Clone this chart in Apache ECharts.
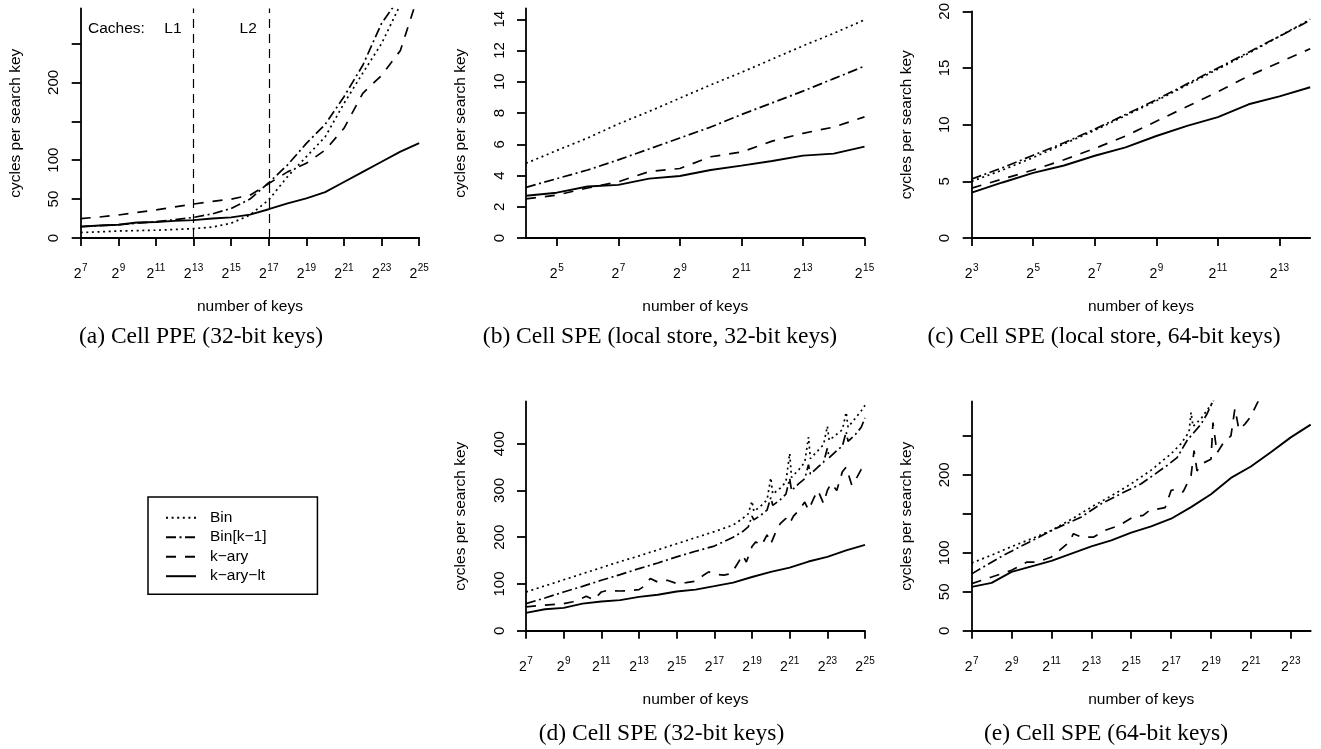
<!DOCTYPE html>
<html><head><meta charset="utf-8">
<script src="https://cdn.jsdelivr.net/npm/echarts@6/dist/echarts.min.js"></script>
<style>html,body{margin:0;padding:0;background:#fff}#c{width:1321px;height:749px}</style>
</head><body><div id="c"></div>
<script>
// ---------- data (x = log2(number of keys)) ----------
const seriesNames = ['Bin', 'Bin[k\u22121]', 'k\u2212ary', 'k\u2212ary\u2212lt'];
const captions = ['(a) Cell PPE (32-bit keys)', '(b) Cell SPE (local store, 32-bit keys)',
  '(c) Cell SPE (local store, 64-bit keys)', '(d) Cell SPE (32-bit keys)', '(e) Cell SPE (64-bit keys)'];
const cacheLevels = [13, 17];
const cacheNames = ['L1', 'L2'];

// (a) Cell PPE
const aX = [7,8,9,10,11,12,13,14,15,16,17,18,19,20,21,22,23,24,25];
const aBin    = [7, 8, 9, 9.5, 10, 11, 12, 14, 19, 29.5, 49, 79, 104.5, 130, 173, 212, 250, 300, 310];
const aBinK   = [14.6, 16, 17, 19, 21, 23.5, 26.5, 31, 38, 50, 71, 94, 121.6, 146, 181.6, 222, 276, 310, 340];
const aKary   = [25, 27, 29.5, 33, 36, 40, 43.7, 47, 50, 55, 70, 85, 96, 113, 141, 186, 209, 241, 316];
const aKaryLt = [14.6, 16, 17, 20, 20.5, 22, 23, 25, 26.5, 30, 37, 44.5, 51, 59, 72, 85, 98, 111, 122];

// (b) local store, 32-bit
const bX = [4,5,6,7,8,9,10,11,12,13,14,15];
const bBin    = [4.78, 5.6, 6.4, 7.3, 8.1, 8.95, 9.8, 10.6, 11.45, 12.3, 13.1, 13.96];
const bBinK   = [3.24, 3.8, 4.35, 5.0, 5.7, 6.4, 7.1, 7.9, 8.65, 9.4, 10.2, 11.0];
const bKary   = [2.5, 2.75, 3.2, 3.6, 4.25, 4.45, 5.2, 5.5, 6.2, 6.7, 7.1, 7.75];
const bKaryLt = [2.7, 2.9, 3.3, 3.4, 3.8, 3.97, 4.35, 4.63, 4.93, 5.27, 5.4, 5.85];

// (c) local store, 64-bit
const cX = [3,4,5,6,7,8,9,10,11,12,13,14];
const cBin    = [5.0, 6.0, 7.1, 8.3, 9.5, 10.8, 12.1, 13.5, 14.9, 16.3, 17.8, 19.3];
const cBinK   = [5.2, 6.2, 7.3, 8.4, 9.6, 10.9, 12.2, 13.6, 15.0, 16.4, 17.8, 19.2];
const cKary   = [4.4, 5.2, 6.0, 6.9, 7.9, 9.0, 10.3, 11.6, 12.9, 14.3, 15.5, 16.7];
const cKaryLt = [4.0, 4.9, 5.74, 6.4, 7.26, 8.0, 9.0, 9.9, 10.67, 11.8, 12.5, 13.3];

// (d) SPE 32-bit
const dBinX = [7,8,9,10,11,12,13,14,15,16,17,18,18.5,18.8,19,19.1,19.5,19.8,20,20.1,20.5,20.8,21,21.1,21.5,21.8,22,22.1,22.5,22.8,23,23.1,23.5,23.8,24,24.1,24.5,24.8,25];
const dBin    = [83,96,109,122,135,148,160,173,186,199,212,226,240,250,277,255,268,280,327,292,305,318,379,328,345,360,414,368,385,398,437,407,420,430,467,435,455,470,482];
const dBinK   = [58,70,83,95,108,120,133,145,158,170,181,200,212,222,245,237,248,258,285,268,280,292,325,300,315,325,355,335,350,360,390,370,385,395,425,405,420,435,455];
const dKaryX  = [7,8,9,9.5,10,10.2,10.6,11,11.3,12,12.5,13,13.3,13.6,14,14.5,15,15.5,16,16.4,16.7,17,17.5,17.9,18.3,18.5,18.7,19,19.2,19.5,19.8,20,20.3,20.5,20.8,21,21.2,21.5,21.8,22,22.3,22.5,22.8,23,23.2,23.5,23.8,24,24.3,24.6,24.8,25];
const dKary   = [51,55,58,62,70,74,66,83,86,85,86,88,96,112,104,108,101,103,106,118,126,121,119,122,148,162,147,180,190,182,205,186,215,229,240,229,245,258,275,258,285,300,272,300,315,300,340,350,311,330,345,350];
const dLtX    = [7,8,9,10,11,12,13,14,15,16,17,18,19,20,21,22,23,24,25];
const dKaryLt = [38.4,46,49,58,62.6,65.5,72.6,77,84,88,95.4,103,115,126,135,148,158,172,183.6];

// (e) SPE 64-bit
const eBinX = [7,8,9,10,11,12,13,14,15,16,17,17.5,17.9,18,18.1,18.5,19,19.3];
const eBin    = [87,97,108,118,128.8,143,158.6,173,188.5,206,227,240,255,280,262,272,290,300];
const eBinKX = [7,8.6,9.9,11.2,12.5,13.5,14.5,15.5,16.8,17.3,17.8,18.5,18.8,19.2];
const eBinK   = [73,97,114,131,146,163,176,188.5,212,222,244,265,278,300];
const eKaryX = [7,8,9,9.75,10.3,11,11.4,11.9,12.1,12.5,13.1,13.7,14.4,15.1,15.6,15.9,16.7,17,17.3,17.6,18,18.15,18.3,18.6,19,19.1,19.3,19.6,20,20.2,20.4,20.7,21,21.3,21.6];
const eKary   = [60.5,69,77.6,88,88,94.7,103,114,124.5,120,120,129,135,146,148,154,158,180,182,178,199,231,205,215,220,267,228,240,250,285,258,265,275,291,305];
const eLtX    = [7,8,9,10,11,12,13,14,15,16,17,18,19,20,21,22,23,24];
const eKaryLt = [56.3,61.4,75.5,82.7,89.6,99,108.3,116,125.8,134,143.7,158.6,175,196,210.7,229,248,264.4];

// ---------- chart ----------
const SANS = 'Liberation Sans, Arial, Helvetica, sans-serif';
const lineStyles = [
  {type: [2, 3.6], width: 1.7},
  {type: [10, 3.5, 2, 3.5], width: 1.7},
  {type: [10, 9], width: 1.7},
  {type: 'solid', width: 1.9}
];
const grids = [
  {left: 80.7, top: 8.5, width: 338.5, height: 229.5},
  {left: 526, top: 8.5, width: 338.5, height: 229.5},
  {left: 971.7, top: 8.5, width: 338.5, height: 229.5},
  {left: 526, top: 401.5, width: 339, height: 229.3},
  {left: 971.7, top: 401.5, width: 339, height: 229.3}
];
const xCfg = [
  {min: 7, max: 25, ticks: [7,9,11,13,15,17,19,21,23,25]},
  {min: 4, max: 15, ticks: [5,7,9,11,13,15]},
  {min: 3, max: 14, ticks: [3,5,7,9,11,13]},
  {min: 7, max: 25, ticks: [7,9,11,13,15,17,19,21,23,25]},
  {min: 7, max: 24, ticks: [7,9,11,13,15,17,19,21,23]}
];
const yCfg = [
  {max: 295, ticks: [0,50,100,150,200,250], labels: [0,50,100,200]},
  {max: 14.69, ticks: [0,2,4,6,8,10,12,14], labels: [0,2,4,6,8,10,12,14]},
  {max: 20, ticks: [0,5,10,15,20], labels: [0,5,10,15,20]},
  {max: 490, ticks: [0,100,200,300,400], labels: [0,100,200,300,400]},
  {max: 294, ticks: [0,50,100,150,200,250], labels: [0,50,100,200]}
];
const axLine = {show: true, onZero: false, lineStyle: {color: '#000', width: 1.8}};
const xAxes = xCfg.map((c, i) => ({
  type: 'value', gridIndex: i, min: c.min, max: c.max,
  axisLine: axLine,
  axisTick: {show: true, length: 8, customValues: c.ticks, lineStyle: {color: '#000', width: 1.8}},
  axisLabel: {customValues: c.ticks, margin: 25, color: '#000',
    formatter: v => '{b|2}{s|' + v + '}',
    rich: {b: {fontSize: 14, fontFamily: SANS, color: '#000', verticalAlign: 'bottom'},
           s: {fontSize: 10, fontFamily: SANS, color: '#000', verticalAlign: 'bottom', padding: [0, 0, 8, 0.5]}}},
  splitLine: {show: false},
  name: 'number of keys', nameLocation: 'middle', nameGap: 61,
  nameTextStyle: {fontSize: 15.5, fontFamily: SANS, color: '#000'}
}));
const yAxes = yCfg.map((c, i) => ({
  type: 'value', gridIndex: i, min: 0, max: c.max,
  axisLine: axLine,
  axisTick: {show: true, length: 9, customValues: c.ticks, lineStyle: {color: '#000', width: 1.8}},
  axisLabel: {customValues: c.labels, rotate: 90, margin: 19, fontSize: 15, fontFamily: SANS, color: '#000'},
  splitLine: {show: false},
  name: 'cycles per search key', nameLocation: 'middle', nameGap: 57,
  nameTextStyle: {fontSize: 15.5, fontFamily: SANS, color: '#000'}
}));

const panels = [
  [[aX, aBin], [aX, aBinK], [aX, aKary], [aX, aKaryLt]],
  [[bX, bBin], [bX, bBinK], [bX, bKary], [bX, bKaryLt]],
  [[cX, cBin], [cX, cBinK], [cX, cKary], [cX, cKaryLt]],
  [[dBinX, dBin], [dBinX, dBinK], [dKaryX, dKary], [dLtX, dKaryLt]],
  [[eBinX, eBin], [eBinKX, eBinK], [eKaryX, eKary], [eLtX, eKaryLt]]
];
const series = [];
panels.forEach((p, gi) => {
  p.forEach(([xs, ys], si) => {
    const s = {
      type: 'line', name: seriesNames[si], xAxisIndex: gi, yAxisIndex: gi,
      data: xs.map((x, k) => [x, ys[k]]), symbol: 'none', showSymbol: false,
      clip: true, animation: false, silent: true,
      lineStyle: Object.assign({color: '#000'}, lineStyles[si]),
      itemStyle: {color: '#000'}
    };
    if (gi === 0 && si === 3) {
      s.markLine = {silent: true, symbol: ['none', 'none'], animation: false,
        label: {show: false},
        lineStyle: {color: '#000', type: [9, 6], width: 1.2},
        data: cacheLevels.map(v => ({xAxis: v}))};
    }
    series.push(s);
  });
});

const capPos = [[201, 325], [660, 325], [1104, 325], [661.5, 722], [1106, 722]];

const chart = echarts.init(document.getElementById('c'), null, {renderer: 'canvas'});
chart.setOption({
  backgroundColor: '#fff',
  animation: false,
  grid: grids,
  xAxis: xAxes,
  yAxis: yAxes,
  legend: {
    data: seriesNames, orient: 'vertical', left: 148, top: 497,
    itemWidth: 30, itemHeight: 14, itemGap: 3.5,
    padding: [12.7, 51, 10, 17],
    borderColor: '#000', borderWidth: 1.5, backgroundColor: '#fff',
    selectedMode: false,
    itemStyle: {opacity: 0, borderWidth: 0},
    textStyle: {fontSize: 15.5, fontFamily: SANS, color: '#000', padding: [0, 0, 0, 9]}
  },
  series: series
});

const g = [];
captions.forEach((t, i) => {
  g.push({type: 'text', style: {text: t, x: capPos[i][0], y: capPos[i][1],
    align: 'center', verticalAlign: 'top', fill: '#000',
    font: '23.5px "Liberation Serif", "Times New Roman", serif'}});
});
// cache annotations in panel (a)
const yTxt = 29;
g.push({type: 'text', style: {text: 'Caches:', x: 88, y: yTxt, align: 'left', verticalAlign: 'middle',
  fill: '#000', font: '15.5px "Liberation Sans", Arial, sans-serif'}});
cacheLevels.forEach((v, i) => {
  const px = chart.convertToPixel({xAxisIndex: 0}, v);
  g.push({type: 'text', style: {text: cacheNames[i], x: px - 12, y: yTxt, align: 'right', verticalAlign: 'middle',
    fill: '#000', font: '15.5px "Liberation Sans", Arial, sans-serif'}});
});
chart.setOption({graphic: g.map(e => ({type: e.type, style: e.style, silent: true}))});
</script></body></html>
